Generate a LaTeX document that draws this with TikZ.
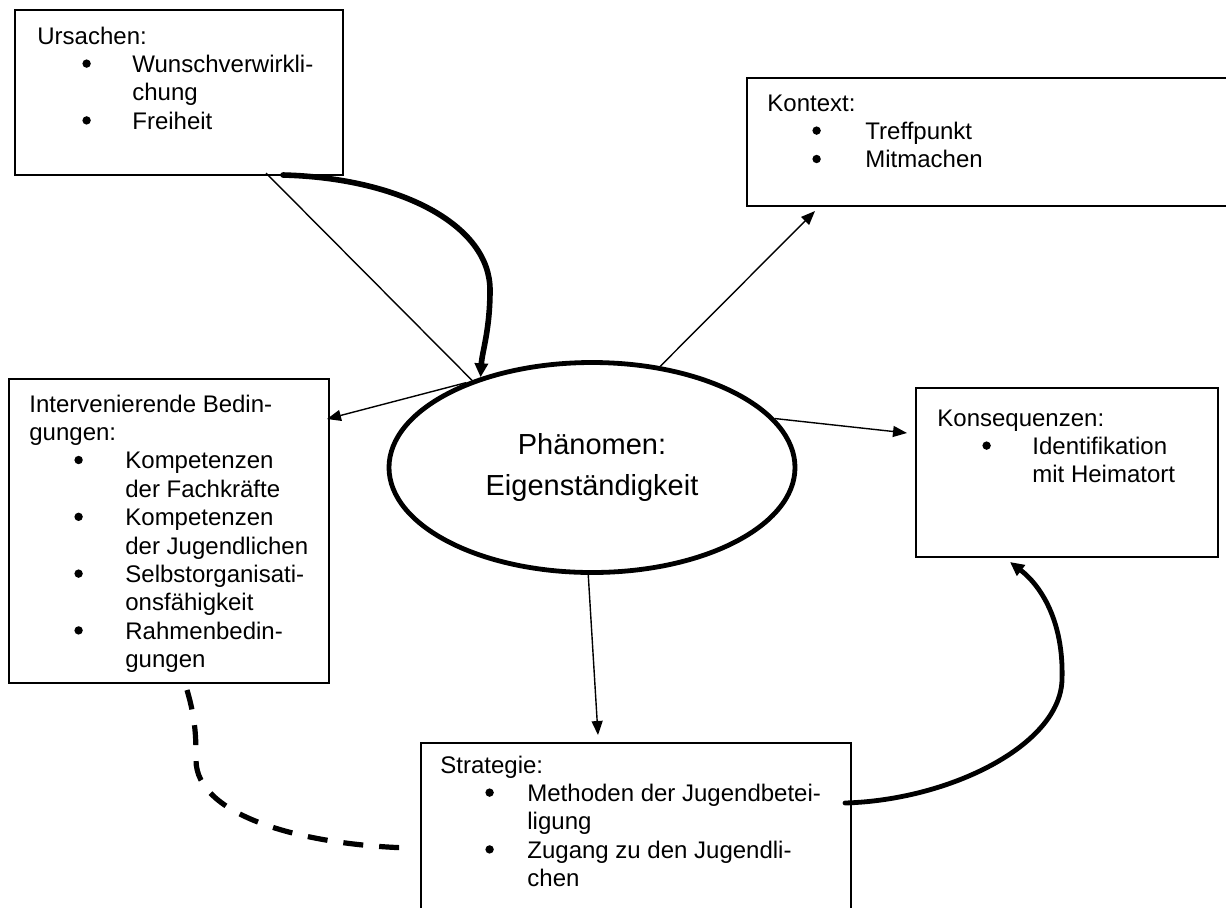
\documentclass[tikz,border=0pt]{standalone}
\usepackage{fontspec}
\setmainfont{Liberation Sans}
\usetikzlibrary{shapes.geometric,arrows.meta,calc}
\newcommand{\bul}{\tikz[baseline=0pt]{\fill (0pt,4.4pt) circle (2.1pt);}}
\newcommand{\bi}[2][48pt]{\makebox[#1][l]{\hspace*{22.5pt}\bul}#2}
\newcommand{\ci}[2][48pt]{\hspace*{#1}#2}
\begin{document}
\begin{tikzpicture}[x=0.5pt,y=-0.5pt,
  box/.style={draw, line width=0.6pt, anchor=north west, inner sep=0pt, outer sep=0pt},
  txt/.style={anchor=base west, inner sep=0pt, font=\fontsize{12}{14.2}\selectfont},
  thinarrow/.style={line width=0.7pt, -{Triangle[length=7pt,width=5.5pt]}},
  thinline/.style={line width=0.7pt},
  thickarrow/.style={line width=2.8pt, line cap=round, -{Triangle[length=7pt,width=6.5pt]}},
  dashcurve/.style={line width=2.6pt, dash pattern=on 10pt off 8pt}
]
\useasboundingbox (0,0) rectangle (1226,907);
\clip (0,0) rectangle (1226,907);

% boxes
\node[box, minimum width=164pt, minimum height=82.5pt] (urs) at (15,10) {};
\node[box, minimum width=246.5pt, minimum height=64pt] (ktx) at (747,78) {};
\node[box, minimum width=160pt, minimum height=152pt] (intv) at (9,379) {};
\node[box, minimum width=151pt, minimum height=84.5pt] (kons) at (916,388) {};
\node[box, minimum width=215pt, minimum height=100pt] (strat) at (421,743) {};

% texts
\node[txt] (urst) at (37,44) {\begin{tabular}[t]{@{}l@{}}Ursachen:\\ \bi[47.5pt]{Wunschverwirkli-}\\ \ci[47.5pt]{chung}\\ \bi[47.5pt]{Freiheit}\end{tabular}};
\node[txt] (ktxt) at (767,111) {\begin{tabular}[t]{@{}l@{}}Kontext:\\ \bi[49pt]{Treffpunkt}\\ \bi[49pt]{Mitmachen}\end{tabular}};
\node[txt] (intvt) at (29,412) {\begin{tabular}[t]{@{}l@{}}Intervenierende Bedin-\\ gungen:\\ \bi{Kompetenzen}\\ \ci{der Fachkräfte}\\ \bi{Kompetenzen}\\ \ci{der Jugendlichen}\\ \bi{Selbstorganisati-}\\ \ci{onsfähigkeit}\\ \bi{Rahmenbedin-}\\ \ci{gungen}\end{tabular}};
\node[txt] (konst) at (937,426) {\begin{tabular}[t]{@{}l@{}}Konsequenzen:\\ \bi[47.5pt]{Identifikation}\\ \ci[47.5pt]{mit Heimatort}\end{tabular}};
\node[txt] (stratt) at (440,773) {\begin{tabular}[t]{@{}l@{}}Strategie:\\ \bi[43.5pt]{Methoden der Jugendbetei-}\\ \ci[43.5pt]{ligung}\\ \bi[43.5pt]{Zugang zu den Jugendli-}\\ \ci[43.5pt]{chen}\end{tabular}};

% ellipse
\node[ellipse, draw, line width=2.4pt, minimum width=203pt, minimum height=105pt, inner sep=0pt,
      align=center, font=\fontsize{14.5}{20.5}\selectfont] (ell) at (592,467.5) {Phänomen:\\Eigenständigkeit};

% connectors
\draw[thinline] ($(urs.south west)+(251,-2)$) -- (ell.144);
\draw[thinarrow] (ell.146) -- ($(intv.north east)+(-2,40)$);
\draw[thinarrow] (ell.56) -- ($(ktx.south west)+(68,5)$);
\draw[thinarrow] (ell.15) -- ($(kons.north west)+(-9,45)$);
\draw[thinarrow] (ell.-92) -- ($(strat.north west)+(177,-8)$);

\draw[thickarrow] ($(urs.south west)+(268,0)$) .. controls (400,178) and (490,225) .. (490,290)
   .. controls (490,330) and (482,352) .. (ell.141);
\draw[thickarrow, line width=2.4pt] ($(strat.north east)+(-6,60)$) .. controls (950,800) and (1060,745) .. (1062,680)
   .. controls (1064,620) and (1040,585) .. ($(kons.south west)+(94,5)$);
\draw[dashcurve] ($(intv.south west)+(178,7)$) .. controls (196,720) and (196,740) .. (196,760)
   .. controls (196,815) and (300,845) .. ($(strat.north west)+(-11,105)$);
\end{tikzpicture}
\end{document}
